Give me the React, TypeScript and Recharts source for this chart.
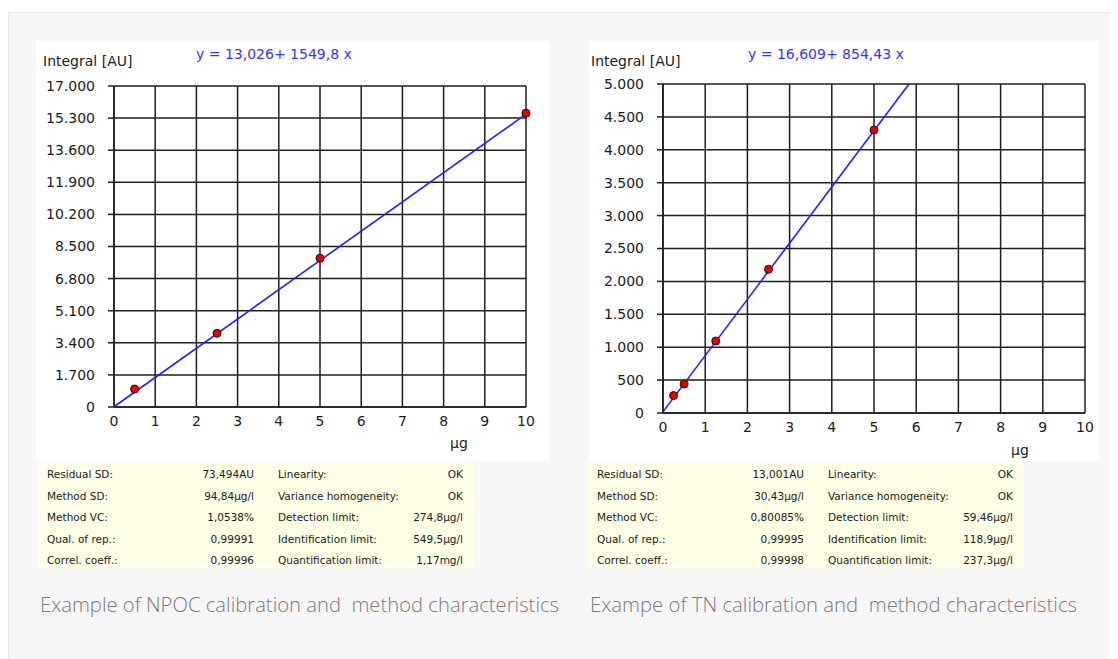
import React from 'react';
import { ComposedChart, Scatter, XAxis, YAxis, CartesianGrid } from 'recharts';

const xTicks = [0, 1, 2, 3, 4, 5, 6, 7, 8, 9, 10];
const npocYTicks = [0, 1700, 3400, 5100, 6800, 8500, 10200, 11900, 13600, 15300, 17000];
const tnYTicks = [0, 500, 1000, 1500, 2000, 2500, 3000, 3500, 4000, 4500, 5000];

const npocPoints = [
  { x: 0.5, y: 950 },
  { x: 2.5, y: 3900 },
  { x: 5, y: 7880 },
  { x: 10, y: 15560 },
];
const npocFit = [
  { x: 0, y: 13 },
  { x: 10, y: 15511 },
];
const tnPoints = [
  { x: 0.25, y: 265 },
  { x: 0.5, y: 441 },
  { x: 1.25, y: 1094 },
  { x: 2.5, y: 2184 },
  { x: 5, y: 4300 },
];
const tnFit = [
  { x: 0, y: 17 },
  { x: 5.83, y: 5000 },
];

const npocEquation = 'y = 13,026+ 1549,8 x';
const tnEquation = 'y = 16,609+ 854,43 x';
const yLabel = 'Integral [AU]';
const xLabel = 'µg';

const statLabelsA = ['Residual SD:', 'Method SD:', 'Method VC:', 'Qual. of rep.:', 'Correl. coeff.:'];
const statLabelsB = ['Linearity:', 'Variance homogeneity:', 'Detection limit:', 'Identification limit:', 'Quantification limit:'];
const npocValuesA = ['73,494AU', '94,84µg/l', '1,0538%', '0,99991', '0,99996'];
const npocValuesB = ['OK', 'OK', '274,8µg/l', '549,5µg/l', '1,17mg/l'];
const tnValuesA = ['13,001AU', '30,43µg/l', '0,80085%', '0,99995', '0,99998'];
const tnValuesB = ['OK', 'OK', '59,46µg/l', '118,9µg/l', '237,3µg/l'];

const npocCaption = 'Example of NPOC calibration and  method characteristics';
const tnCaption = 'Exampe of TN calibration and  method characteristics';

const FONT = '"DejaVu Sans", Verdana, sans-serif';
const fmtThousands = (v: number) => String(v).replace(/\B(?=(\d{3})+(?!\d))/g, '.');

const Dot = (props: any) => {
  const { cx, cy } = props;
  if (cx == null || cy == null) return null;
  return <circle cx={cx} cy={cy} r={4} fill="#e00000" stroke="#3a0000" strokeWidth={1} />;
};
const NoShape = () => null;

type ChartProps = {
  width: number;
  height: number;
  margin: { top: number; right: number; bottom: number; left: number };
  yWidth: number;
  yTicks: number[];
  points: { x: number; y: number }[];
  fit: { x: number; y: number }[];
};

function CalChart({ width, height, margin, yWidth, yTicks, points, fit }: ChartProps) {
  const yMax = yTicks[yTicks.length - 1];
  return (
    <ComposedChart width={width} height={height} margin={margin}>
      <CartesianGrid stroke="#1e1e1e" strokeWidth={1.5} />
      <XAxis
        type="number"
        dataKey="x"
        domain={[0, 10]}
        ticks={xTicks}
        interval={0}
        axisLine={{ stroke: '#1e1e1e', strokeWidth: 1.5 }}
        tickLine={false}
        tickSize={6}
        tickMargin={3}
        height={30}
        tick={{ fill: '#1a1a1a', fontSize: 14, fontFamily: FONT }}
      />
      <YAxis
        type="number"
        dataKey="y"
        domain={[0, yMax]}
        ticks={yTicks}
        interval={0}
        width={yWidth}
        tickFormatter={fmtThousands}
        axisLine={{ stroke: '#1e1e1e', strokeWidth: 1.5 }}
        tickLine={{ stroke: '#1e1e1e', strokeWidth: 1.5 }}
        tickSize={6}
        tickMargin={13}
        tick={{ fill: '#1a1a1a', fontSize: 14, fontFamily: FONT }}
      />
      <Scatter
        data={fit}
        line={{ stroke: '#1f1fff', strokeWidth: 1.6 }}
        shape={NoShape}
        isAnimationActive={false}
      />
      <Scatter data={points} shape={Dot} isAnimationActive={false} />
    </ComposedChart>
  );
}

function StatTable({ left, valuesA, valuesB }: { left: number; valuesA: string[]; valuesB: string[] }) {
  return (
    <div
      style={{
        position: 'absolute',
        left,
        top: 454,
        width: 436,
        height: 106,
        background: '#fefee6',
        fontFamily: FONT,
        fontSize: 10.5,
        color: '#1a1a1a',
      }}
    >
      {statLabelsA.map((lab, i) => (
        <div key={i} style={{ position: 'absolute', top: 4 + i * 21.5, left: 0, width: 436, height: 16, lineHeight: '16px' }}>
          <span style={{ position: 'absolute', left: 9 }}>{lab}</span>
          <span style={{ position: 'absolute', right: 436 - 216, textAlign: 'right' }}>{valuesA[i]}</span>
          <span style={{ position: 'absolute', left: 240 }}>{statLabelsB[i]}</span>
          <span style={{ position: 'absolute', right: 436 - 425, textAlign: 'right' }}>{valuesB[i]}</span>
        </div>
      ))}
    </div>
  );
}

export default function App() {
  return (
    <div style={{ position: 'relative', width: 1110, height: 651, overflow: 'hidden' }}>
      <div
        style={{
          position: 'absolute',
          left: 0,
          top: 4,
          width: 1110,
          height: 647,
          background: '#f7f7f7',
          borderTop: '1px solid #e8e8e8',
          borderLeft: '1px solid #e8e8e8',
          boxSizing: 'border-box',
        }}
      />

      {/* NPOC chart */}
      <div style={{ position: 'absolute', left: 28, top: 33, width: 513, height: 420, background: '#ffffff' }}>
        <CalChart
          width={513}
          height={420}
          margin={{ top: 45, right: 23, bottom: 24, left: 0 }}
          yWidth={78}
          yTicks={npocYTicks}
          points={npocPoints}
          fit={npocFit}
        />
        <div style={{ position: 'absolute', left: 7, top: 12, fontFamily: FONT, fontSize: 14, color: '#1a1a1a', whiteSpace: 'pre' }}>{yLabel}</div>
        <div style={{ position: 'absolute', left: 160, top: 5, fontFamily: FONT, fontSize: 14, color: '#3535f5', whiteSpace: 'pre' }}>{npocEquation}</div>
        <div style={{ position: 'absolute', left: 414, top: 394, fontFamily: FONT, fontSize: 14, color: '#1a1a1a' }}>{xLabel}</div>
      </div>

      {/* TN chart */}
      <div style={{ position: 'absolute', left: 581, top: 33, width: 510, height: 420, background: '#ffffff' }}>
        <CalChart
          width={510}
          height={420}
          margin={{ top: 43, right: 14, bottom: 18, left: 0 }}
          yWidth={74}
          yTicks={tnYTicks}
          points={tnPoints}
          fit={tnFit}
        />
        <div style={{ position: 'absolute', left: 2, top: 12, fontFamily: FONT, fontSize: 14, color: '#1a1a1a', whiteSpace: 'pre' }}>{yLabel}</div>
        <div style={{ position: 'absolute', left: 159, top: 5, fontFamily: FONT, fontSize: 14, color: '#3535f5', whiteSpace: 'pre' }}>{tnEquation}</div>
        <div style={{ position: 'absolute', left: 422, top: 401, fontFamily: FONT, fontSize: 14, color: '#1a1a1a' }}>{xLabel}</div>
      </div>

      <StatTable left={30} valuesA={npocValuesA} valuesB={npocValuesB} />
      <StatTable left={580} valuesA={tnValuesA} valuesB={tnValuesB} />

      <svg style={{ position: 'absolute', left: 0, top: 580 }} width={1110} height={40}>
        <text
          x={32}
          y={24}
          fontFamily='"Open Sans", sans-serif'
          fontWeight={300}
          fontSize={20}
          fill="#7a7a7a"
          textLength={519}
          lengthAdjust="spacingAndGlyphs"
          style={{ whiteSpace: 'pre' }}
        >
          {npocCaption}
        </text>
        <text
          x={582}
          y={24}
          fontFamily='"Open Sans", sans-serif'
          fontWeight={300}
          fontSize={20}
          fill="#7a7a7a"
          textLength={487}
          lengthAdjust="spacingAndGlyphs"
          style={{ whiteSpace: 'pre' }}
        >
          {tnCaption}
        </text>
      </svg>
    </div>
  );
}
